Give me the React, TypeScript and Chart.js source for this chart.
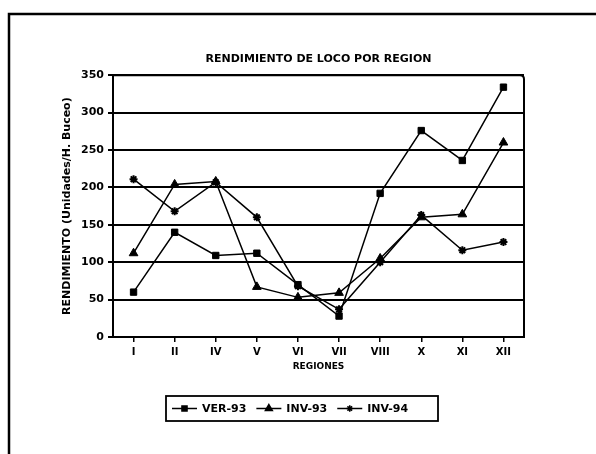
import { useEffect, useRef } from 'react';
import { Chart, registerables } from 'chart.js';
import { drawPoint } from 'chart.js/helpers';

Chart.register(...registerables);

// Yield per region, three campaigns
const regions = ['I', 'II', 'IV', 'V', 'VI', 'VII', 'VIII', 'X', 'XI', 'XII'];
const ver93 = [60, 140, 109, 112, 70, 28, 192, 276, 236, 334];
const inv93 = [112, 204, 208, 67, 53, 59, 105, 160, 164, 260];
const inv94 = [211, 168, 207, 160, 68, 37, 100, 163, 116, 127];
const seriesLabels = ['VER-93', 'INV-93', 'INV-94'];
const yMin = 0;
const yMax = 350;
const yStep = 50;

const FONT = '"DejaVu Sans", "Liberation Sans", sans-serif';

// Page frame, plot frame and boxed legend
const framePlugin = {
  id: 'frames',
  beforeDraw(chart: any) {
    const { ctx, width, height } = chart;
    ctx.save();
    ctx.fillStyle = '#fff';
    ctx.fillRect(0, 0, width, height);
    ctx.strokeStyle = '#000';
    ctx.lineWidth = 2.5;
    ctx.beginPath();
    ctx.moveTo(9, height);
    ctx.lineTo(9, 14);
    ctx.lineTo(width, 14);
    ctx.stroke();
    ctx.restore();
  },
  beforeDatasetsDraw(chart: any) {
    const { ctx, chartArea: a } = chart;
    const r = 4;
    ctx.save();
    ctx.strokeStyle = '#000';
    ctx.lineWidth = 2;
    ctx.beginPath();
    ctx.moveTo(a.left, a.bottom);
    ctx.lineTo(a.left, a.top);
    ctx.lineTo(a.right - r, a.top);
    ctx.quadraticCurveTo(a.right, a.top, a.right, a.top + r);
    ctx.lineTo(a.right, a.bottom);
    ctx.lineTo(a.left, a.bottom);
    ctx.stroke();
    ctx.restore();
  },
  afterDraw(chart: any) {
    const { ctx } = chart;
    const box = { left: 166, top: 396, right: 438, bottom: 421 };
    const cy = (box.top + box.bottom) / 2;
    ctx.save();
    ctx.strokeStyle = '#000';
    ctx.lineWidth = 1.8;
    ctx.strokeRect(box.left, box.top, box.right - box.left, box.bottom - box.top);
    ctx.font = `bold 11px ${FONT}`;
    ctx.textBaseline = 'middle';
    ctx.fillStyle = '#000';
    let x = box.left + 6;
    chart.data.datasets.forEach((ds: any) => {
      const segW = 25;
      ctx.lineWidth = 1.5;
      ctx.beginPath();
      ctx.moveTo(x, cy);
      ctx.lineTo(x + segW, cy);
      ctx.stroke();
      ctx.fillStyle = '#000';
      drawPoint(ctx, {
        pointStyle: ds.pointStyle,
        radius: ds.pointRadius * 0.8,
        borderWidth: ds.pointBorderWidth ?? 1,
        rotation: 0,
      } as any, x + segW / 2, cy);
      ctx.fillStyle = '#000';
      ctx.fillText(ds.label, x + segW + 5, cy + 0.5);
      x += segW + 5 + ctx.measureText(ds.label).width + 10;
    });
    ctx.restore();
  },
};

export default function App() {
  const canvasRef = useRef<HTMLCanvasElement | null>(null);

  useEffect(() => {
    if (!canvasRef.current) return;
    const common = {
      borderColor: '#000',
      backgroundColor: '#000',
      pointBackgroundColor: '#000',
      pointBorderColor: '#000',
      borderWidth: 1.5,
      tension: 0,
      fill: false,
    };
    const chart = new Chart(canvasRef.current, {
      type: 'line',
      data: {
        labels: regions,
        datasets: [
          { ...common, label: seriesLabels[0], data: ver93, pointStyle: 'rect', pointRadius: 4.5, pointBorderWidth: 1 },
          { ...common, label: seriesLabels[1], data: inv93, pointStyle: 'triangle', pointRadius: 5, pointBorderWidth: 1 },
          { ...common, label: seriesLabels[2], data: inv94, pointStyle: 'star', pointRadius: 4, pointBorderWidth: 2 },
        ],
      },
      options: {
        animation: false,
        responsive: false,
        devicePixelRatio: 1,
        layout: { padding: { left: 0, right: 72, top: 0, bottom: 77 } },
        plugins: {
          legend: { display: false },
          tooltip: { enabled: false },
          title: {
            display: true,
            fullSize: false,
            text: 'RENDIMIENTO DE LOCO POR REGION',
            color: '#000',
            font: { family: FONT, size: 11, weight: 'bold' },
            padding: { top: 53, bottom: 9 },
          },
        },
        scales: {
          x: {
            offset: true,
            afterFit: (s: any) => { s.height = 40; },
            grid: { drawOnChartArea: false, drawTicks: true, tickLength: 5, color: '#000', lineWidth: 1.5 },
            border: { display: true, color: '#000', width: 2 },
            ticks: { color: '#000', font: { family: FONT, size: 10, weight: 'bold' }, padding: 4, maxRotation: 0 },
            title: {
              display: true,
              text: 'REGIONES',
              color: '#000',
              font: { family: FONT, size: 9, weight: 'bold' },
              padding: { top: 0, bottom: 4.5 },
            },
          },
          y: {
            min: yMin,
            max: yMax,
            afterFit: (s: any) => { s.width = 113; },
            grid: { drawTicks: true, tickLength: 5, color: '#000', lineWidth: 2 },
            border: { display: true, color: '#000', width: 2 },
            ticks: { stepSize: yStep, color: '#000', font: { family: FONT, size: 11, weight: 'bold' }, padding: 4 },
            title: {
              display: true,
              text: 'RENDIMIENTO (Unidades/H. Buceo)',
              color: '#000',
              font: { family: FONT, size: 11, weight: 'bold' },
              padding: { top: 61, bottom: 0 },
            },
          },
        },
      },
      plugins: [framePlugin],
    } as any);
    return () => chart.destroy();
  }, []);

  return (
    <div style={{ position: 'absolute', left: 0, top: 0, width: 596, height: 454, background: '#fff' }}>
      <canvas ref={canvasRef} width={596} height={454} style={{ width: 596, height: 454, display: 'block' }} />
    </div>
  );
}
